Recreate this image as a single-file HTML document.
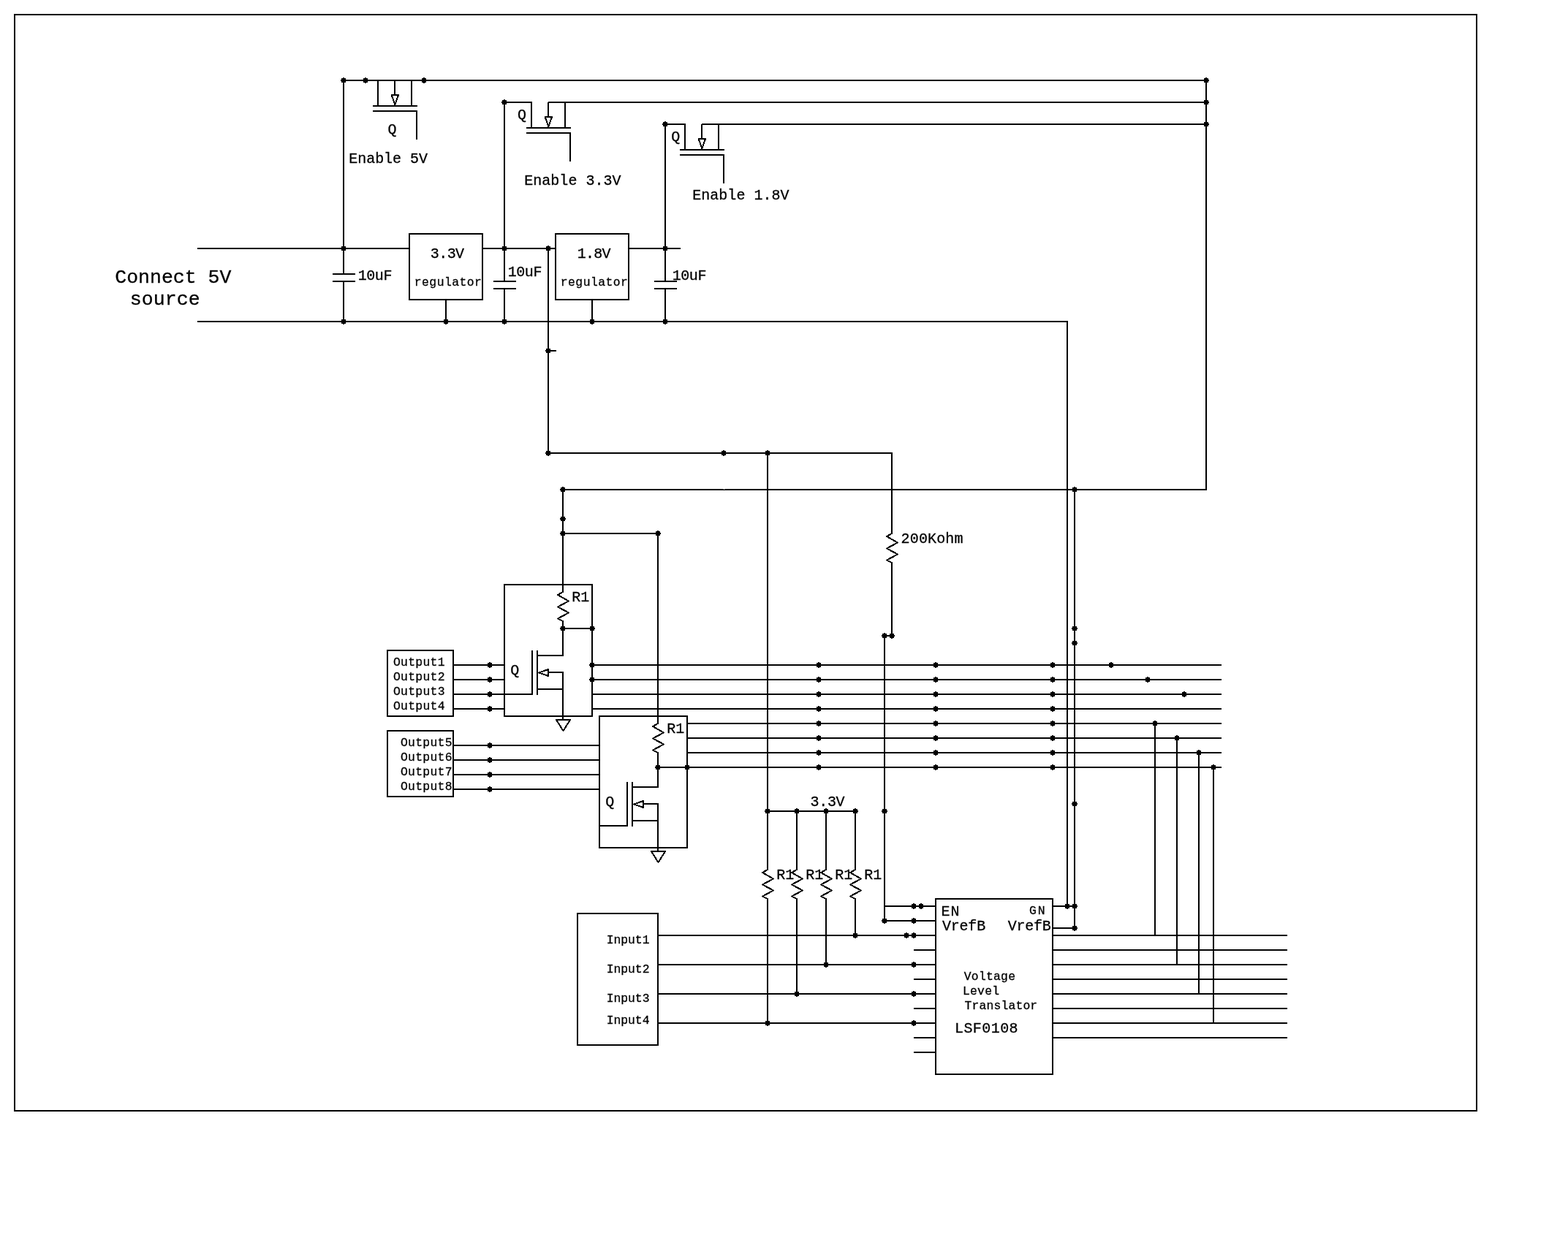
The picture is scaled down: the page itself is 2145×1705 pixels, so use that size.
<!DOCTYPE html>
<html lang="en">
<head>
<meta charset="utf-8">
<title>Schematic</title>
<style>
html,body{margin:0;padding:0;background:#fff;}
body{width:2145px;height:1705px;overflow:hidden;}
svg{display:block;will-change:transform;}
.w{stroke:#000;stroke-width:2;fill:none;shape-rendering:crispEdges;}
.d{stroke:#000;stroke-width:2;fill:none;stroke-linejoin:round;stroke-linecap:round;shape-rendering:crispEdges;}
.j{fill:#000;stroke:none;shape-rendering:crispEdges;}
text{font-family:"Liberation Mono","DejaVu Sans Mono",monospace;fill:#000;stroke:#000;stroke-width:0.3px;white-space:pre;}
</style>
</head>
<body>
<svg width="2145" height="1705" viewBox="0 0 2145 1705">
<rect x="0" y="0" width="2145" height="1705" fill="#fff"/>
<g class="w">
<rect x="20" y="20" width="2000" height="1500"/>
<rect x="560" y="320" width="100" height="90"/>
<rect x="760" y="320" width="100" height="90"/>
<rect x="690" y="800" width="120" height="180"/>
<rect x="820" y="980" width="120" height="180"/>
<rect x="530" y="890" width="90" height="90"/>
<rect x="530" y="1000" width="90" height="90"/>
<rect x="790" y="1250" width="110" height="180"/>
<rect x="1280" y="1230" width="160" height="240"/>
<path d="M470,110H1651M690,140H728M750,140H1651M910,170H938M960,170H1651M270,340H561M660,340H761M860,340H931M270,440H1461M470,110V376M470,385V441M690,140V386M690,395V441M910,170V386M910,395V441M1650,110V671M610,410V441M810,410V441M750,340V621M750,480H761M1460,440V1241M455,375H486M455,385H486M675,385H706M675,395H706M895,385H926M895,395H926M517,110V146M540,110V131M563,110V146M510,145H571M510,152H571M570,152V191M727,140V176M750,140V161M773,140V176M720,175H781M720,182H781M780,182V221M937,170V206M960,170V191M983,170V206M930,205H991M930,212H991M990,212V251M750,620H1221M1050,620V1191M1050,1230V1401M1220,620V731M1220,770V871M1210,870H1221M1210,870V1261M770,670H1651M770,670V811M770,850V898M770,730H901M900,730V991M900,1030V1078M1470,670V1271M728,890V951M735,890V951M735,897H771M735,943H771M750,920H771M858,1070V1131M865,1070V1131M865,1077H901M865,1123H901M880,1100H901M770,920V986M900,1100V1166M770,860H811M900,1050H941M620,950H729M820,1130H859M620,910H691M620,930H691M620,970H691M620,1020H821M620,1040H821M620,1060H821M620,1080H821M810,910H1671M810,930H1671M810,950H1671M810,970H1671M940,990H1671M940,1010H1671M940,1030H1671M940,1050H1671M1580,990V1281M1610,1010V1321M1640,1030V1361M1660,1050V1401M1050,1110H1171M1090,1110V1191M1090,1230V1361M1130,1110V1191M1130,1230V1321M1170,1110V1191M1170,1230V1281M900,1280H1281M900,1320H1281M900,1360H1281M900,1400H1281M1210,1240H1281M1210,1260H1281M1250,1300H1281M1250,1340H1281M1250,1380H1281M1250,1420H1281M1250,1440H1281M1440,1240H1471M1440,1270H1471M1440,1280H1761M1440,1300H1761M1440,1320H1761M1440,1340H1761M1440,1360H1761M1440,1380H1761M1440,1400H1761M1440,1420H1761"/>
<rect x="990" y="669" width="1" height="1" stroke="none" fill="#fff"/>
</g>
<g class="d">
<path d="M535.7,130 L545,130 L540.4,143.5Z"/>
<path d="M745.7,160 L755,160 L750.4,173.5Z"/>
<path d="M955.7,190 L965,190 L960.4,203.5Z"/>
<path d="M1050,1190 l-7,4 l15,8.5 l-15,8 l15,8 l-15,8 l7,3.5"/>
<path d="M1220,730 l-7,4 l15,8.5 l-15,8 l15,8 l-15,8 l7,3.5"/>
<path d="M770,810 l-7,4 l15,8.5 l-15,8 l15,8 l-15,8 l7,3.5"/>
<path d="M900,990 l-7,4 l15,8.5 l-15,8 l15,8 l-15,8 l7,3.5"/>
<path d="M750,916 L750,925 L737,920.5Z"/>
<path d="M880,1096 L880,1105 L867,1100.5Z"/>
<path d="M761,985 L780,985 L770.5,1000 Z"/>
<path d="M891,1165 L910,1165 L900.5,1180 Z"/>
<path d="M1090,1190 l-7,4 l15,8.5 l-15,8 l15,8 l-15,8 l7,3.5"/>
<path d="M1130,1190 l-7,4 l15,8.5 l-15,8 l15,8 l-15,8 l7,3.5"/>
<path d="M1170,1190 l-7,4 l15,8.5 l-15,8 l15,8 l-15,8 l7,3.5"/>
</g>
<g class="j">
<path d="M467,107h2v-1h2v1h2v2h1v2h-1v2h-2v1h-2v-1h-2v-2h-1v-2h1zM497,107h2v-1h2v1h2v2h1v2h-1v2h-2v1h-2v-1h-2v-2h-1v-2h1zM577,107h2v-1h2v1h2v2h1v2h-1v2h-2v1h-2v-1h-2v-2h-1v-2h1zM687,137h2v-1h2v1h2v2h1v2h-1v2h-2v1h-2v-1h-2v-2h-1v-2h1zM907,167h2v-1h2v1h2v2h1v2h-1v2h-2v1h-2v-1h-2v-2h-1v-2h1zM1647,107h2v-1h2v1h2v2h1v2h-1v2h-2v1h-2v-1h-2v-2h-1v-2h1zM1647,137h2v-1h2v1h2v2h1v2h-1v2h-2v1h-2v-1h-2v-2h-1v-2h1zM1647,167h2v-1h2v1h2v2h1v2h-1v2h-2v1h-2v-1h-2v-2h-1v-2h1zM467,337h2v-1h2v1h2v2h1v2h-1v2h-2v1h-2v-1h-2v-2h-1v-2h1zM467,437h2v-1h2v1h2v2h1v2h-1v2h-2v1h-2v-1h-2v-2h-1v-2h1zM607,437h2v-1h2v1h2v2h1v2h-1v2h-2v1h-2v-1h-2v-2h-1v-2h1zM687,337h2v-1h2v1h2v2h1v2h-1v2h-2v1h-2v-1h-2v-2h-1v-2h1zM687,437h2v-1h2v1h2v2h1v2h-1v2h-2v1h-2v-1h-2v-2h-1v-2h1zM747,337h2v-1h2v1h2v2h1v2h-1v2h-2v1h-2v-1h-2v-2h-1v-2h1zM747,477h2v-1h2v1h2v2h1v2h-1v2h-2v1h-2v-1h-2v-2h-1v-2h1zM807,437h2v-1h2v1h2v2h1v2h-1v2h-2v1h-2v-1h-2v-2h-1v-2h1zM907,337h2v-1h2v1h2v2h1v2h-1v2h-2v1h-2v-1h-2v-2h-1v-2h1zM907,437h2v-1h2v1h2v2h1v2h-1v2h-2v1h-2v-1h-2v-2h-1v-2h1zM747,617h2v-1h2v1h2v2h1v2h-1v2h-2v1h-2v-1h-2v-2h-1v-2h1zM987,617h2v-1h2v1h2v2h1v2h-1v2h-2v1h-2v-1h-2v-2h-1v-2h1zM1047,617h2v-1h2v1h2v2h1v2h-1v2h-2v1h-2v-1h-2v-2h-1v-2h1zM1217,867h2v-1h2v1h2v2h1v2h-1v2h-2v1h-2v-1h-2v-2h-1v-2h1zM1207,867h2v-1h2v1h2v2h1v2h-1v2h-2v1h-2v-1h-2v-2h-1v-2h1zM1207,1107h2v-1h2v1h2v2h1v2h-1v2h-2v1h-2v-1h-2v-2h-1v-2h1zM1207,1257h2v-1h2v1h2v2h1v2h-1v2h-2v1h-2v-1h-2v-2h-1v-2h1zM767,667h2v-1h2v1h2v2h1v2h-1v2h-2v1h-2v-1h-2v-2h-1v-2h1zM1467,667h2v-1h2v1h2v2h1v2h-1v2h-2v1h-2v-1h-2v-2h-1v-2h1zM767,707h2v-1h2v1h2v2h1v2h-1v2h-2v1h-2v-1h-2v-2h-1v-2h1zM767,727h2v-1h2v1h2v2h1v2h-1v2h-2v1h-2v-1h-2v-2h-1v-2h1zM897,727h2v-1h2v1h2v2h1v2h-1v2h-2v1h-2v-1h-2v-2h-1v-2h1zM1467,857h2v-1h2v1h2v2h1v2h-1v2h-2v1h-2v-1h-2v-2h-1v-2h1zM1467,877h2v-1h2v1h2v2h1v2h-1v2h-2v1h-2v-1h-2v-2h-1v-2h1zM1467,1097h2v-1h2v1h2v2h1v2h-1v2h-2v1h-2v-1h-2v-2h-1v-2h1zM1467,1237h2v-1h2v1h2v2h1v2h-1v2h-2v1h-2v-1h-2v-2h-1v-2h1zM1467,1267h2v-1h2v1h2v2h1v2h-1v2h-2v1h-2v-1h-2v-2h-1v-2h1zM1457,1237h2v-1h2v1h2v2h1v2h-1v2h-2v1h-2v-1h-2v-2h-1v-2h1zM767,857h2v-1h2v1h2v2h1v2h-1v2h-2v1h-2v-1h-2v-2h-1v-2h1zM807,857h2v-1h2v1h2v2h1v2h-1v2h-2v1h-2v-1h-2v-2h-1v-2h1zM807,907h2v-1h2v1h2v2h1v2h-1v2h-2v1h-2v-1h-2v-2h-1v-2h1zM807,927h2v-1h2v1h2v2h1v2h-1v2h-2v1h-2v-1h-2v-2h-1v-2h1zM897,1047h2v-1h2v1h2v2h1v2h-1v2h-2v1h-2v-1h-2v-2h-1v-2h1zM937,1047h2v-1h2v1h2v2h1v2h-1v2h-2v1h-2v-1h-2v-2h-1v-2h1zM667,907h2v-1h2v1h2v2h1v2h-1v2h-2v1h-2v-1h-2v-2h-1v-2h1zM667,927h2v-1h2v1h2v2h1v2h-1v2h-2v1h-2v-1h-2v-2h-1v-2h1zM667,947h2v-1h2v1h2v2h1v2h-1v2h-2v1h-2v-1h-2v-2h-1v-2h1zM667,967h2v-1h2v1h2v2h1v2h-1v2h-2v1h-2v-1h-2v-2h-1v-2h1zM667,1017h2v-1h2v1h2v2h1v2h-1v2h-2v1h-2v-1h-2v-2h-1v-2h1zM667,1037h2v-1h2v1h2v2h1v2h-1v2h-2v1h-2v-1h-2v-2h-1v-2h1zM667,1057h2v-1h2v1h2v2h1v2h-1v2h-2v1h-2v-1h-2v-2h-1v-2h1zM667,1077h2v-1h2v1h2v2h1v2h-1v2h-2v1h-2v-1h-2v-2h-1v-2h1zM1117,907h2v-1h2v1h2v2h1v2h-1v2h-2v1h-2v-1h-2v-2h-1v-2h1zM1277,907h2v-1h2v1h2v2h1v2h-1v2h-2v1h-2v-1h-2v-2h-1v-2h1zM1437,907h2v-1h2v1h2v2h1v2h-1v2h-2v1h-2v-1h-2v-2h-1v-2h1zM1117,927h2v-1h2v1h2v2h1v2h-1v2h-2v1h-2v-1h-2v-2h-1v-2h1zM1277,927h2v-1h2v1h2v2h1v2h-1v2h-2v1h-2v-1h-2v-2h-1v-2h1zM1437,927h2v-1h2v1h2v2h1v2h-1v2h-2v1h-2v-1h-2v-2h-1v-2h1zM1117,947h2v-1h2v1h2v2h1v2h-1v2h-2v1h-2v-1h-2v-2h-1v-2h1zM1277,947h2v-1h2v1h2v2h1v2h-1v2h-2v1h-2v-1h-2v-2h-1v-2h1zM1437,947h2v-1h2v1h2v2h1v2h-1v2h-2v1h-2v-1h-2v-2h-1v-2h1zM1117,967h2v-1h2v1h2v2h1v2h-1v2h-2v1h-2v-1h-2v-2h-1v-2h1zM1277,967h2v-1h2v1h2v2h1v2h-1v2h-2v1h-2v-1h-2v-2h-1v-2h1zM1437,967h2v-1h2v1h2v2h1v2h-1v2h-2v1h-2v-1h-2v-2h-1v-2h1zM1117,987h2v-1h2v1h2v2h1v2h-1v2h-2v1h-2v-1h-2v-2h-1v-2h1zM1277,987h2v-1h2v1h2v2h1v2h-1v2h-2v1h-2v-1h-2v-2h-1v-2h1zM1437,987h2v-1h2v1h2v2h1v2h-1v2h-2v1h-2v-1h-2v-2h-1v-2h1zM1117,1007h2v-1h2v1h2v2h1v2h-1v2h-2v1h-2v-1h-2v-2h-1v-2h1zM1277,1007h2v-1h2v1h2v2h1v2h-1v2h-2v1h-2v-1h-2v-2h-1v-2h1zM1437,1007h2v-1h2v1h2v2h1v2h-1v2h-2v1h-2v-1h-2v-2h-1v-2h1zM1117,1027h2v-1h2v1h2v2h1v2h-1v2h-2v1h-2v-1h-2v-2h-1v-2h1zM1277,1027h2v-1h2v1h2v2h1v2h-1v2h-2v1h-2v-1h-2v-2h-1v-2h1zM1437,1027h2v-1h2v1h2v2h1v2h-1v2h-2v1h-2v-1h-2v-2h-1v-2h1zM1117,1047h2v-1h2v1h2v2h1v2h-1v2h-2v1h-2v-1h-2v-2h-1v-2h1zM1277,1047h2v-1h2v1h2v2h1v2h-1v2h-2v1h-2v-1h-2v-2h-1v-2h1zM1437,1047h2v-1h2v1h2v2h1v2h-1v2h-2v1h-2v-1h-2v-2h-1v-2h1zM1517,907h2v-1h2v1h2v2h1v2h-1v2h-2v1h-2v-1h-2v-2h-1v-2h1zM1567,927h2v-1h2v1h2v2h1v2h-1v2h-2v1h-2v-1h-2v-2h-1v-2h1zM1617,947h2v-1h2v1h2v2h1v2h-1v2h-2v1h-2v-1h-2v-2h-1v-2h1zM1577,987h2v-1h2v1h2v2h1v2h-1v2h-2v1h-2v-1h-2v-2h-1v-2h1zM1607,1007h2v-1h2v1h2v2h1v2h-1v2h-2v1h-2v-1h-2v-2h-1v-2h1zM1637,1027h2v-1h2v1h2v2h1v2h-1v2h-2v1h-2v-1h-2v-2h-1v-2h1zM1657,1047h2v-1h2v1h2v2h1v2h-1v2h-2v1h-2v-1h-2v-2h-1v-2h1zM1047,1107h2v-1h2v1h2v2h1v2h-1v2h-2v1h-2v-1h-2v-2h-1v-2h1zM1047,1397h2v-1h2v1h2v2h1v2h-1v2h-2v1h-2v-1h-2v-2h-1v-2h1zM1087,1107h2v-1h2v1h2v2h1v2h-1v2h-2v1h-2v-1h-2v-2h-1v-2h1zM1087,1357h2v-1h2v1h2v2h1v2h-1v2h-2v1h-2v-1h-2v-2h-1v-2h1zM1127,1107h2v-1h2v1h2v2h1v2h-1v2h-2v1h-2v-1h-2v-2h-1v-2h1zM1127,1317h2v-1h2v1h2v2h1v2h-1v2h-2v1h-2v-1h-2v-2h-1v-2h1zM1167,1107h2v-1h2v1h2v2h1v2h-1v2h-2v1h-2v-1h-2v-2h-1v-2h1zM1167,1277h2v-1h2v1h2v2h1v2h-1v2h-2v1h-2v-1h-2v-2h-1v-2h1zM1247,1277h2v-1h2v1h2v2h1v2h-1v2h-2v1h-2v-1h-2v-2h-1v-2h1zM1247,1317h2v-1h2v1h2v2h1v2h-1v2h-2v1h-2v-1h-2v-2h-1v-2h1zM1247,1357h2v-1h2v1h2v2h1v2h-1v2h-2v1h-2v-1h-2v-2h-1v-2h1zM1247,1397h2v-1h2v1h2v2h1v2h-1v2h-2v1h-2v-1h-2v-2h-1v-2h1zM1237,1277h2v-1h2v1h2v2h1v2h-1v2h-2v1h-2v-1h-2v-2h-1v-2h1zM1247,1237h2v-1h2v1h2v2h1v2h-1v2h-2v1h-2v-1h-2v-2h-1v-2h1zM1257,1237h2v-1h2v1h2v2h1v2h-1v2h-2v1h-2v-1h-2v-2h-1v-2h1zM1247,1257h2v-1h2v1h2v2h1v2h-1v2h-2v1h-2v-1h-2v-2h-1v-2h1z"/>
</g>
<g class="t">
<text x="530.45" y="182.50" font-size="20">Q</text>
<text x="477.17" y="223.00" font-size="20" letter-spacing="-0.01">Enable 5V</text>
<text x="708.08" y="162.50" font-size="20">Q</text>
<text x="717.17" y="252.50" font-size="20" letter-spacing="0.042">Enable 3.3V</text>
<text x="918.33" y="192.50" font-size="20">Q</text>
<text x="947.17" y="272.50" font-size="20" letter-spacing="0.042">Enable 1.8V</text>
<text x="157.29" y="387.00" font-size="26.5" letter-spacing="0.009" stroke-width="0">Connect 5V</text>
<text x="177.84" y="416.50" font-size="26.5" letter-spacing="0.098" stroke-width="0">source</text>
<text x="489.80" y="383.00" font-size="20" letter-spacing="-0.469">10uF</text>
<text x="694.80" y="377.50" font-size="20" letter-spacing="-0.469">10uF</text>
<text x="919.80" y="383.00" font-size="20" letter-spacing="-0.469">10uF</text>
<text x="588.75" y="353.00" font-size="20" letter-spacing="-0.55">3.3V</text>
<text x="789.80" y="353.00" font-size="20" letter-spacing="-0.735">1.8V</text>
<text x="566.81" y="390.75" font-size="16.4" letter-spacing="0.448" stroke-width="0.2">regulator</text>
<text x="766.81" y="390.75" font-size="16.4" letter-spacing="0.448" stroke-width="0.2">regulator</text>
<text x="1232.59" y="743.00" font-size="20" letter-spacing="0.153">200Kohm</text>
<text x="782.17" y="823.00" font-size="20">R1</text>
<text x="912.17" y="1002.50" font-size="20">R1</text>
<text x="1062.17" y="1202.50" font-size="20">R1</text>
<text x="1102.17" y="1202.50" font-size="20">R1</text>
<text x="1142.17" y="1202.50" font-size="20">R1</text>
<text x="1182.17" y="1202.50" font-size="20">R1</text>
<text x="698.20" y="922.50" font-size="20">Q</text>
<text x="828.20" y="1103.00" font-size="20">Q</text>
<text x="537.93" y="910.50" font-size="16.4" letter-spacing="0.29" stroke-width="0.2">Output1</text>
<text x="547.93" y="1020.50" font-size="16.4" letter-spacing="0.29" stroke-width="0.2">Output5</text>
<text x="537.93" y="930.50" font-size="16.4" letter-spacing="0.29" stroke-width="0.2">Output2</text>
<text x="547.93" y="1040.50" font-size="16.4" letter-spacing="0.29" stroke-width="0.2">Output6</text>
<text x="537.93" y="950.50" font-size="16.4" letter-spacing="0.29" stroke-width="0.2">Output3</text>
<text x="547.93" y="1060.50" font-size="16.4" letter-spacing="0.29" stroke-width="0.2">Output7</text>
<text x="537.93" y="970.50" font-size="16.4" letter-spacing="0.29" stroke-width="0.2">Output4</text>
<text x="547.93" y="1080.50" font-size="16.4" letter-spacing="0.29" stroke-width="0.2">Output8</text>
<text x="829.63" y="1290.50" font-size="16.4" letter-spacing="-0.03" stroke-width="0.2">Input1</text>
<text x="829.63" y="1330.50" font-size="16.4" letter-spacing="-0.03" stroke-width="0.2">Input2</text>
<text x="829.63" y="1370.50" font-size="16.4" letter-spacing="-0.03" stroke-width="0.2">Input3</text>
<text x="829.63" y="1400.50" font-size="16.4" letter-spacing="-0.03" stroke-width="0.2">Input4</text>
<text x="1108.50" y="1102.50" font-size="20" letter-spacing="-0.3">3.3V</text>
<text x="1287.42" y="1252.50" font-size="20" letter-spacing="1.17">EN</text>
<text x="1288.90" y="1272.50" font-size="20" letter-spacing="-0.19">VrefB</text>
<text x="1408.00" y="1250.75" font-size="16.4" letter-spacing="2.027" stroke-width="0.2">GN</text>
<text x="1378.80" y="1272.50" font-size="20" letter-spacing="-0.265">VrefB</text>
<text x="1318.72" y="1340.75" font-size="16.4" letter-spacing="0.245" stroke-width="0.2">Voltage</text>
<text x="1316.90" y="1360.75" font-size="16.4" letter-spacing="0.249" stroke-width="0.2">Level</text>
<text x="1319.59" y="1380.75" font-size="16.4" letter-spacing="0.141" stroke-width="0.2">Translator</text>
<text x="1305.94" y="1412.50" font-size="20" letter-spacing="0.437">LSF0108</text>
</g>
</svg>
</body>
</html>
